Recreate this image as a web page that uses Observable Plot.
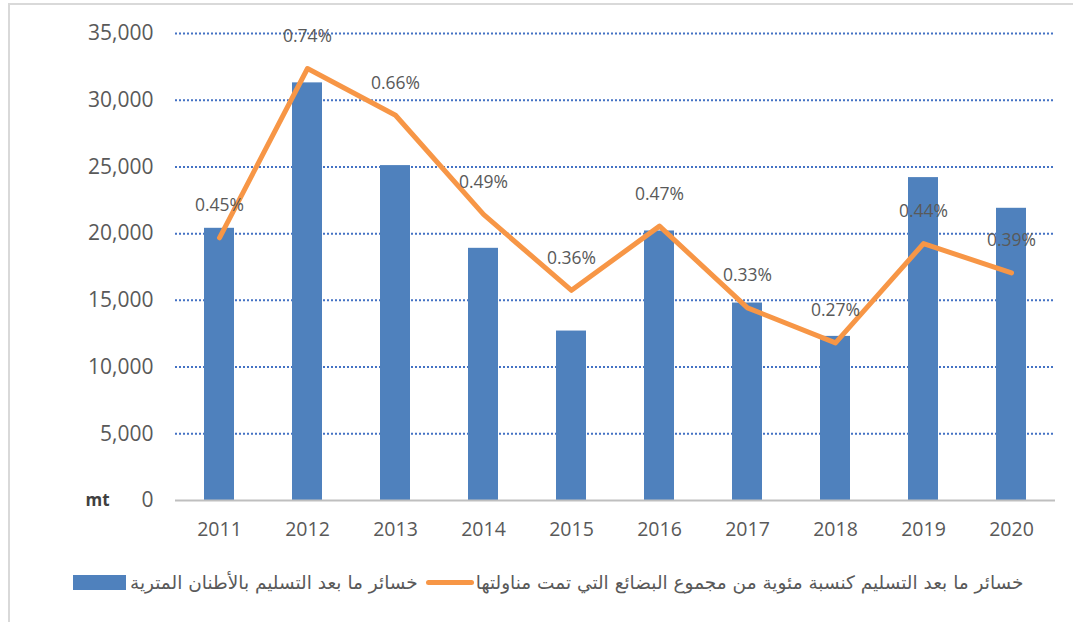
<!DOCTYPE html>
<html>
<head>
<meta charset="utf-8">
<script src="https://cdn.jsdelivr.net/npm/d3@7"></script>
<script src="https://cdn.jsdelivr.net/npm/@observablehq/plot@0.6"></script>
<style>
  html, body { margin: 0; padding: 0; background: #fff; }
  #wrap { position: relative; width: 1073px; height: 622px; overflow: hidden; }
  #frame { position: absolute; left: 8px; top: 3px; width: 1070px; height: 625px; border: 2px solid #d9d9d9; box-sizing: border-box; pointer-events: none; }
  #chart { position: absolute; left: 0; top: 0; }
  #legend { position: absolute; left: 73px; top: 572px; display: flex; align-items: center; direction: ltr;
            font-family: "DejaVu Sans", sans-serif; font-size: 18.5px; color: #595959; white-space: nowrap; }
  .item { display: flex; align-items: center; }
  .sw-bar { width: 53px; height: 15px; background: #4f81bd; margin-right: 4px; }
  .sw-line { width: 48px; height: 5px; background: #f79646; border-radius: 3px; margin-left: 8px; margin-right: 2px; }
</style>
</head>
<body>
<div id="wrap">
  <div id="chart"></div>
  <div id="legend"></div>
  <div id="frame"></div>
</div>
<script>
// ---- data ----
const years = ["2011","2012","2013","2014","2015","2016","2017","2018","2019","2020"];
const tonnes = [20400, 31300, 25100, 18900, 12700, 20200, 14800, 12300, 24200, 21900];
const lossPct = [0.45, 0.74, 0.66, 0.49, 0.36, 0.47, 0.33, 0.27, 0.44, 0.39];
const yTicks = [0, 5000, 10000, 15000, 20000, 25000, 30000, 35000];
const seriesNames = [
  "خسائر ما بعد التسليم بالأطنان المترية",
  "خسائر ما بعد التسليم كنسبة مئوية من مجموع البضائع التي تمت مناولتها"
];
const unitLabel = "mt";

// secondary (hidden) axis: 0% .. 0.8% mapped onto 0 .. 35,000
const secMax = 0.8, priMax = 35000;

const rows = years.map((y, i) => ({year: y, t: tonnes[i], p: lossPct[i], pScaled: lossPct[i] * priMax / secMax}));

const chart = Plot.plot({
  width: 1073,
  height: 545,
  marginTop: 33,
  marginBottom: 45,
  marginLeft: 175,
  marginRight: 18,
  style: {fontFamily: "'Open Sans', 'Liberation Sans', sans-serif", fontSize: "19px", color: "#595959", background: "transparent"},
  x: {domain: years, paddingInner: 0.66, paddingOuter: 0.33, label: null},
  y: {domain: [0, priMax], label: null},
  marks: [
    Plot.ruleY(yTicks.filter(d => d > 0), {stroke: "#4472c4", strokeWidth: 2, strokeDasharray: "2,2"}),
    Plot.barY(rows, {x: "year", y: "t", fill: "#4f81bd"}),
    Plot.ruleY([0], {stroke: "#bfbfbf", strokeWidth: 2}),
    Plot.axisY({ticks: yTicks, tickSize: 0, tickPadding: 22, tickFormat: d3.format(","), label: null, fill: "#595959", fontSize: 21}),
    Plot.axisX({tickSize: 0, tickPadding: 22, label: null, fill: "#595959", fontSize: 19.5}),
    Plot.line(rows, {x: "year", y: "pScaled", stroke: "#f79646", strokeWidth: 5, strokeLinejoin: "round", strokeLinecap: "round"}),
    Plot.text(rows, {x: "year", y: "pScaled", text: d => d.p.toFixed(2) + "%", dy: -32, fill: "#595959", fontSize: 17.5}),
    Plot.text([unitLabel], {frameAnchor: "bottom-left", dx: -90, dy: 0, textAnchor: "start", lineAnchor: "middle", fontWeight: "bold", fontSize: 17, fill: "#404040"})
  ]
});
document.getElementById("chart").appendChild(chart);

// legend
const legend = document.getElementById("legend");
const item1 = document.createElement("div"); item1.className = "item";
const sw1 = document.createElement("div"); sw1.className = "sw-bar";
const t1 = document.createElement("span"); t1.dir = "rtl"; t1.textContent = seriesNames[0];
item1.append(sw1, t1);
const item2 = document.createElement("div"); item2.className = "item";
const sw2 = document.createElement("div"); sw2.className = "sw-line";
const t2 = document.createElement("span"); t2.dir = "rtl"; t2.textContent = seriesNames[1];
item2.append(sw2, t2);
legend.append(item1, item2);
</script>
</body>
</html>
